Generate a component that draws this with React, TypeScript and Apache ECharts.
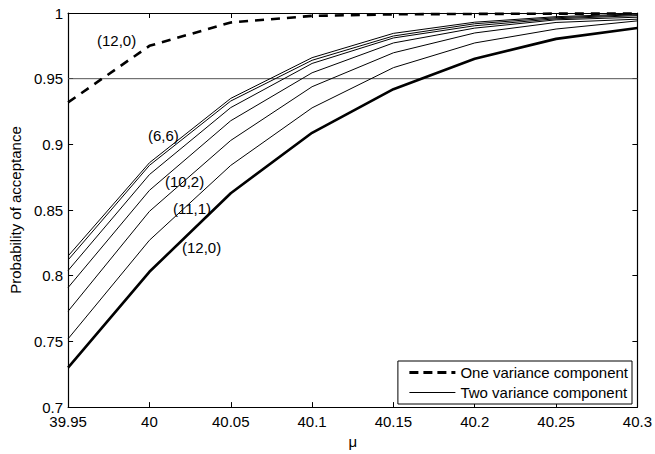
import React, { useEffect, useRef } from "react";
import * as echarts from "echarts";

const mu = [39.95, 40, 40.05, 40.1, 40.15, 40.2, 40.25, 40.3];
const xTicks = ["39.95", "40", "40.05", "40.1", "40.15", "40.2", "40.25", "40.3"];
const yTicks = ["0.7", "0.75", "0.8", "0.85", "0.9", "0.95", "1"];

const oneVar_12_0 = [0.932, 0.975, 0.9928, 0.9978, 0.999, 0.9993, 0.9995, 0.9996];
const twoVar_6_6 = [0.815, 0.886, 0.935, 0.966, 0.9845, 0.993, 0.9972, 0.9993];
const twoVar_7_5 = [0.812, 0.884, 0.933, 0.964, 0.9825, 0.9918, 0.9964, 0.9987];
const twoVar_8_4 = [0.804, 0.877, 0.928, 0.9616, 0.981, 0.9903, 0.9956, 0.998];
const twoVar_9_3 = [0.791, 0.865, 0.918, 0.9545, 0.9772, 0.9885, 0.9948, 0.9968];
const twoVar_10_2 = [0.773, 0.849, 0.903, 0.9439, 0.9697, 0.9848, 0.9928, 0.9953];
const twoVar_11_1 = [0.752, 0.827, 0.884, 0.9278, 0.9584, 0.9772, 0.9878, 0.994];
const twoVar_12_0 = [0.73, 0.803, 0.8628, 0.9088, 0.942, 0.9652, 0.9803, 0.9886];

const refLevel = 0.95;

const FONT = "'Liberation Sans', Arial, Helvetica, sans-serif";
const ONE = "One variance component";
const TWO = "Two variance component";

const pts = (ys: number[]) => mu.map((x, i) => [x, ys[i]]);

export default function App() {
  const ref = useRef<HTMLDivElement>(null);
  useEffect(() => {
    if (!ref.current) return;
    const chart = echarts.init(ref.current, null, { renderer: "svg" });
    const thin = (data: number[]) => ({
      type: "line",
      name: TWO,
      data: pts(data),
      symbol: "none",
      showSymbol: false,
      lineStyle: { color: "#000", width: 1 },
      itemStyle: { color: "#000" },
      z: 3,
    });
    const fmt = (v: number) => String(Number(v.toFixed(2)));
    const axisCommon = {
      axisLine: { lineStyle: { color: "#000", width: 1.2 } },
      splitLine: { show: false },
    };
    chart.setOption({
      animation: false,
      backgroundColor: "#fff",
      textStyle: { fontFamily: FONT },
      grid: { left: 66, right: 16, top: 13, bottom: 43, containLabel: false },
      xAxis: [
        {
          type: "value",
          min: 39.95,
          max: 40.3,
          interval: 0.05,
          position: "bottom",
          name: "μ",
          nameLocation: "middle",
          nameGap: 21,
          nameTextStyle: { fontSize: 15, color: "#000", fontFamily: FONT },
          axisTick: { inside: true, length: 5, lineStyle: { color: "#000" } },
          axisLabel: {
            fontSize: 15,
            color: "#000",
            margin: 7,
            fontFamily: FONT,
            formatter: (v: number) => {
              const s = fmt(v);
              return xTicks.includes(s) ? s : "";
            },
          },
          ...axisCommon,
        },
        {
          type: "value",
          min: 39.95,
          max: 40.3,
          interval: 0.05,
          position: "top",
          axisTick: { inside: true, length: 5, lineStyle: { color: "#000" } },
          axisLabel: { show: false },
          ...axisCommon,
        },
      ],
      yAxis: [
        {
          type: "value",
          min: 0.7,
          max: 1,
          interval: 0.05,
          position: "left",
          name: "Probability of acceptance",
          nameLocation: "middle",
          nameGap: 42,
          nameTextStyle: { fontSize: 15, color: "#000", fontFamily: FONT },
          axisTick: { inside: true, length: 5, lineStyle: { color: "#000" } },
          axisLabel: {
            fontSize: 15,
            color: "#000",
            margin: 5,
            fontFamily: FONT,
            formatter: (v: number) => {
              const s = fmt(v);
              return yTicks.includes(s) ? s : "";
            },
          },
          ...axisCommon,
        },
        {
          type: "value",
          min: 0.7,
          max: 1,
          interval: 0.05,
          position: "right",
          axisTick: { inside: true, length: 5, lineStyle: { color: "#000" } },
          axisLabel: { show: false },
          ...axisCommon,
        },
      ],
      legend: {
        orient: "vertical",
        right: 23,
        bottom: 50,
        itemWidth: 46,
        itemHeight: 14,
        itemGap: 5,
        padding: [4, 4, 4, 10],
        borderColor: "#000",
        borderWidth: 1,
        borderRadius: 0,
        backgroundColor: "#fff",
        itemStyle: { opacity: 0 },
        textStyle: { fontSize: 15, color: "#000", fontFamily: FONT },
        data: [
          { name: ONE, lineStyle: { width: 3, type: [9, 5] } },
          { name: TWO, lineStyle: { width: 1, type: "solid" } },
        ],
      },
      series: [
        {
          type: "line",
          name: "ref",
          data: [
            [mu[0], refLevel],
            [mu[mu.length - 1], refLevel],
          ],
          symbol: "none",
          lineStyle: { color: "#555", width: 1 },
          z: 2,
          silent: true,
        },
        thin(twoVar_6_6),
        thin(twoVar_7_5),
        thin(twoVar_8_4),
        thin(twoVar_9_3),
        thin(twoVar_10_2),
        thin(twoVar_11_1),
        {
          ...thin(twoVar_12_0),
          lineStyle: { color: "#000", width: 2.6 },
        },
        {
          type: "line",
          name: ONE,
          data: pts(oneVar_12_0),
          symbol: "none",
          showSymbol: false,
          lineStyle: { color: "#000", width: 2.6, type: [9, 7] },
          itemStyle: { color: "#000" },
          z: 3,
        },
      ],
      graphic: [
        { type: "text", x: 97, y: 33, style: { text: "(12,0)", fontSize: 15, fill: "#000", fontFamily: FONT } },
        { type: "text", x: 148, y: 128, style: { text: "(6,6)", fontSize: 15, fill: "#000", fontFamily: FONT } },
        { type: "text", x: 165, y: 174, style: { text: "(10,2)", fontSize: 15, fill: "#000", fontFamily: FONT } },
        { type: "text", x: 173, y: 201, style: { text: "(11,1)", fontSize: 15, fill: "#000", fontFamily: FONT } },
        { type: "text", x: 182, y: 240, style: { text: "(12,0)", fontSize: 15, fill: "#000", fontFamily: FONT } },
      ],
    });
    return () => chart.dispose();
  }, []);
  return <div ref={ref} style={{ width: 655, height: 454, position: "absolute", left: 0, top: 0 }} />;
}
